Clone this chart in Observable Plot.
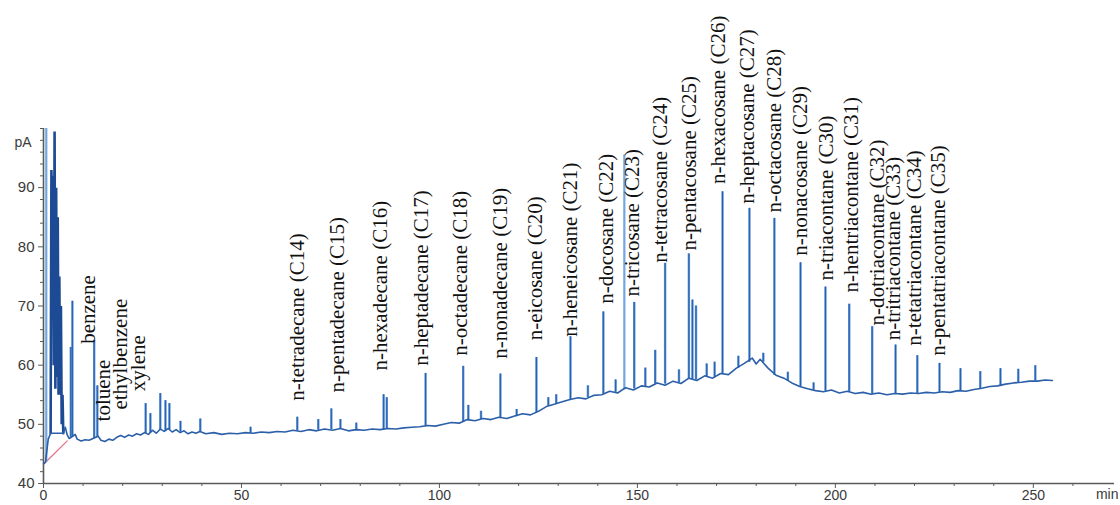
<!DOCTYPE html>
<html><head><meta charset="utf-8">
<script src="https://cdn.jsdelivr.net/npm/d3@7"></script>
<script src="https://cdn.jsdelivr.net/npm/@observablehq/plot@0.6"></script>
<style>
html,body{margin:0;padding:0;background:#fff;}
#chart{width:1120px;height:505px;overflow:hidden;}
</style></head><body><div id="chart"></div>
<script>
// ---- data (retention time in min, signal in pA) ----
const baselineTimes = [0,0.5,1.2,1.8,5.0,5.5,6.0,6.5,7.0,8.0,8.5,9.5,10.5,11.5,12.5,13.8,14.5,15.5,16.5,17.5,18.5,19.5,20.5,21.5,22.5,23.5,24.5,25.5,26.5,27.5,28.5,29.5,30.5,31.5,32.5,33.5,34.5,35.5,36.5,37.5,38.5,39.5,41,43,45,47,49,51,53,55,57,59,61,63,65,67,69,71,73,75,77,79,81,83,85,87,89,91,93,95,97,99,101,103,105,107,109,111,113,115,117,119,121,123,125,127,129,131,133,135,137,139,141,143,145,147,149,151,153,155,157,159,161,163,165,167,169,171,173,175,177,179,180,181,183,185,187,189,191,193,195,197,199,201,203,205,207,209,211,213,215,217,219,221,223,225,227,229,231,233,235,237,239,241,243,245,247,249,251,253,254.8];
const baselineSignal = [43.3,43.6,47.5,48.5,48.5,49.5,48.2,47.6,47.8,48.3,47.5,47.2,47.4,47.3,47.6,48.0,47.3,47.1,47.5,47.3,47.8,48.1,47.8,48.2,48.0,48.4,48.2,48.6,48.3,49.0,48.5,49.2,48.8,49.3,48.7,49.1,48.6,48.9,48.4,48.7,48.5,48.8,48.4,48.6,48.3,48.5,48.4,48.6,48.5,48.7,48.6,48.8,48.7,49.0,48.8,49.1,48.9,49.2,49.0,49.3,48.9,49.1,49.0,49.2,49.1,49.3,49.2,49.4,49.5,49.6,49.8,49.7,50.0,50.3,50.2,50.8,50.6,51.0,50.8,51.2,51.0,51.4,51.8,51.6,52.2,53.0,53.4,53.8,54.2,54.5,54.3,54.9,55.0,55.6,55.3,56.2,55.8,56.5,56.3,57.0,56.6,57.3,56.9,57.8,57.4,58.2,57.8,58.6,58.4,59.5,60.3,61.2,60.2,61.0,59.5,58.3,57.8,57.0,56.4,56.0,55.7,55.5,55.8,55.3,55.6,55.2,55.4,55.1,55.3,55.0,55.2,55.1,55.3,55.2,55.4,55.3,55.5,55.4,55.7,55.6,55.9,56.1,56.4,56.5,56.8,57.0,57.1,57.3,57.3,57.5,57.4];

// unresolved solvent cluster at the start
const solventTimes  = [1.8,2.0,2.2,2.4,2.6,2.8,3.0,3.2,3.4,3.6,3.8,4.0,4.2,4.4,4.6,4.8,5.0];
const solventSignal = [48.5,93,74,92,60,99.5,56,90,58,85,55,75,55,70,50,55,48.5];

// resolved peaks: apex time, base and apex signal
const peakTimes = [6.9,7.3,12.8,13.6,25.8,27.0,29.5,30.8,31.8,34.6,39.6,52.3,64.1,69.4,72.7,75.0,79.0,85.9,86.7,96.5,106.0,107.3,115.4,124.5,133.1,141.4,149.2,154.5,157.0,163.0,163.9,164.8,171.5,178.3,184.6,191.2,197.5,203.5,209.3,215.2,220.7,226.3,231.6,236.6,241.7,246.2,250.5,
  110.5,119.5,127.5,129.5,137.5,144.5,152.0,160.5,167.5,169.5,175.5,181.8,188.0,194.5];
const peakBases = [47.8,47.8,47.6,47.8,48.4,48.5,49.0,48.8,49.0,48.7,48.7,48.5,48.9,49.0,49.1,49.2,49.1,49.1,49.2,49.6,50.3,50.6,51.1,52.0,54.2,55.1,56.0,56.8,56.8,57.6,57.6,57.5,58.5,60.5,58.3,56.4,55.6,55.5,55.2,55.2,55.2,55.4,55.7,56.0,56.5,57.0,57.3,
  50.8,51.3,53.1,53.4,54.5,55.4,56.4,57.0,58.0,57.9,59.5,60.5,57.3,55.8];
const peakTops  = [63,70.8,64.2,56.5,53.5,51.8,55.2,54,53.5,50.5,50.9,49.5,51.2,50.8,52.6,50.8,50.2,55.0,54.5,58.6,59.8,53.2,58.5,61.3,64.8,69.0,70.6,62.5,77.2,78.8,71.0,70.0,89.3,86.5,84.8,77.3,73.2,70.3,66.5,63.4,61.6,60.3,59.4,58.9,59.4,59.3,59.9,
  52.2,52.5,54.5,55.0,56.5,57.5,59.5,59.2,60.2,60.5,61.5,62.0,58.8,57.0];

// two pale peaks
const palePeakTimes = [0.7,146.7];
const palePeakBases = [43.6,55.8];
const palePeakTops  = [100,95.5];

// integration baseline segment at the start
const markerTimes  = [0.4,6.0];
const markerSignal = [43.5,47.2];

// compound annotations: name, time and signal where the label starts
const labelNames = ["benzene","toluene","ethylbenzene","xylene","n-tetradecane (C14)","n-pentadecane (C15)","n-hexadecane (C16)","n-heptadecane (C17)","n-octadecane (C18)","n-nonadecane (C19)","n-eicosane (C20)","n-heneicosane (C21)","n-docosane (C22)","n-tricosane (C23)","n-tetracosane (C24)","n-pentacosane (C25)","n-hexacosane (C26)","n-heptacosane (C27)","n-octacosane (C28)","n-nonacosane (C29)","n-triacontane (C30)","n-hentriacontane (C31)","n-dotriacontane (C32)","n-tritriacontane (C33)","n-tetatriacontane (C34)","n-pentatriacontane (C35)"];
const labelTimes  = [11.4,15.2,19.4,24.0,64.1,74.2,85.1,95.5,105.3,115.4,124.2,133.1,142.2,148.7,155.8,163.1,170.5,177.8,184.6,191.2,197.7,204.0,210.6,214.6,220.0,226.0];
const labelSignal = [63.6,50.5,52.5,55.6,54.0,55.4,59.1,59.9,61.6,61.1,64.2,64.8,70.4,71.6,77.3,79.4,90.6,87.3,85.8,78.5,74.3,72.3,66.7,64.2,63.3,61.6];

const xTicks = [0,50,100,150,200,250];
const xMinorTicks = [10,20,30,40,60,70,80,90,110,120,130,140,160,170,180,190,210,220,230,240,260];
const yTicks = [40,50,60,70,80,90];
const yMinorTicks = [42,44,46,48,52,54,56,58,62,64,66,68,72,74,76,78,82,84,86,88,92,94,96,98,100];
const xUnit = "min";
const yUnit = "pA";

// ---- build tables ----
const baseline = baselineTimes.map((t,i)=>({t, v: baselineSignal[i]}));
const solvent = solventTimes.map((t,i)=>({t, v: solventSignal[i]}));
const peaks = peakTimes.map((t,i)=>({t, b: peakBases[i], top: peakTops[i]}));
const palePeaks = palePeakTimes.map((t,i)=>({t, b: palePeakBases[i], top: palePeakTops[i]}));
const marker = markerTimes.map((t,i)=>({t, v: markerSignal[i]}));
const labels = labelNames.map((name,i)=>({name, t: labelTimes[i], v: labelSignal[i]}));

const axisColor = "#5a5a5a";
const chart = Plot.plot({
  width: 1120, height: 505,
  marginLeft: 43, marginRight: 6, marginTop: 128, marginBottom: 22,
  x: {domain: [0, 270.5], label: null},
  y: {domain: [40, 100], label: null},
  style: {background: "#fff", fontFamily: "'Liberation Sans', Arial, sans-serif", overflow: "visible"},
  marks: [
    Plot.axisX(xMinorTicks, {tickSize: 3, fill: "none", stroke: axisColor, label: null}),
    Plot.axisX(xTicks, {tickSize: 5, tickPadding: 2, fontSize: 14, fill: "#3a3a3a", stroke: axisColor, label: null}),
    Plot.axisY(yMinorTicks, {tickSize: 3, fill: "none", stroke: axisColor, label: null}),
    Plot.axisY(yTicks, {tickSize: 5, tickPadding: 4, fontSize: 15, fill: "#3a3a3a", stroke: axisColor, label: null}),
    Plot.ruleY([40], {stroke: axisColor, strokeWidth: 1.6}),
    Plot.ruleX([0], {stroke: axisColor, strokeWidth: 1.6}),
    Plot.text([xUnit], {frameAnchor: "bottom-right", textAnchor: "end", lineAnchor: "middle", dx: 4, dy: 11, fontSize: 14, fill: "#3a3a3a"}),
    Plot.text([yUnit], {frameAnchor: "top-left", textAnchor: "end", lineAnchor: "middle", dx: -12, dy: 14, fontSize: 14, fill: "#3a3a3a"}),
    // trace
    Plot.line(marker, {x: "t", y: "v", stroke: "#e3728c", strokeWidth: 1.3}),
    Plot.ruleX(palePeaks, {x: "t", y1: "b", y2: "top", stroke: "#6fa6e3", strokeWidth: 2.2}),
    Plot.ruleX(peaks, {x: "t", y1: "b", y2: "top", stroke: "#5a93d8", strokeWidth: 2.4}),
    Plot.ruleX(peaks, {x: "t", y1: "b", y2: "top", stroke: "#2a5ea8", strokeWidth: 1}),
    Plot.line(solvent, {x: "t", y: "v", stroke: "#1d4a94", strokeWidth: 2.6, strokeLinejoin: "miter"}),
    Plot.line(baseline, {x: "t", y: "v", stroke: "#2b5fa9", strokeWidth: 1.6}),
    // annotations
    Plot.text(labels, {x: "t", y: "v", text: "name", rotate: -90, textAnchor: "start", lineAnchor: "middle",
      fontFamily: "'Liberation Serif', 'Times New Roman', serif", fontSize: 21, fill: "#111"})
  ]
});
document.getElementById("chart").appendChild(chart);
</script></body></html>
